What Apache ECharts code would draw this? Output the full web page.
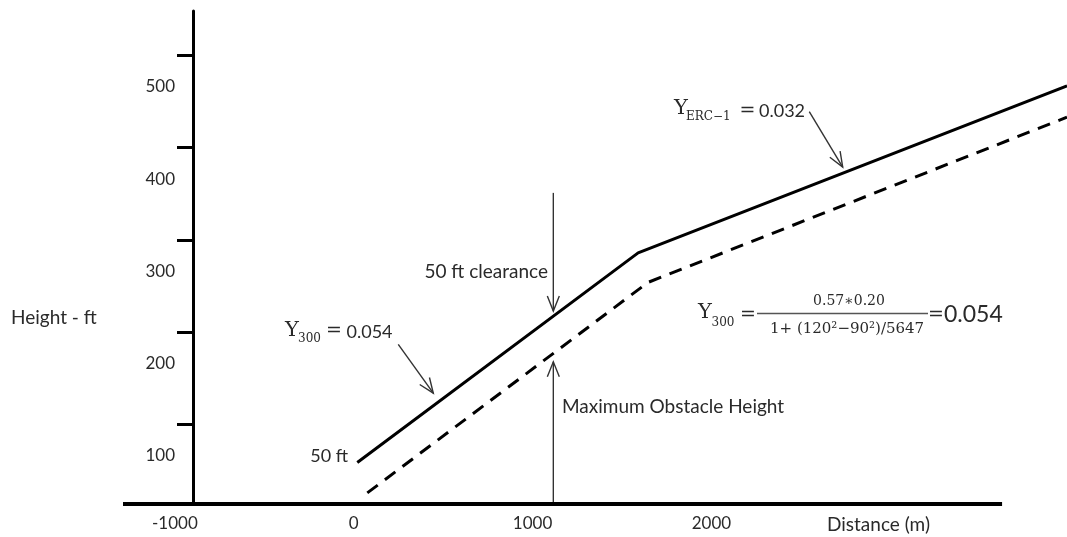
<!DOCTYPE html>
<html><head><meta charset="utf-8">
<script src="https://cdn.jsdelivr.net/npm/echarts@6/dist/echarts.min.js"></script>
<style>html,body{margin:0;padding:0;background:#fff}#c{width:1067px;height:537px}</style>
</head><body><div id="c"></div>
<script>
// Distance (m) / Height (ft)
const solidX = [20, 1590, 3988];
const solidY = [93, 320, 501];
const dashX = [76, 1645, 3988];
const dashY = [60, 288, 467];
const xTickLabels = [-1000, 0, 1000, 2000];
const yTickLabels = [100, 200, 300, 400, 500];
const yTickMarks = [134, 234, 334, 434, 534];
const xAxisSpan = [-1290, 3625];
// annotation arrows: [fromX, fromY, tipX, tipY] in data units
const arrowRows = [
  [1116, 385, 1116, 257],
  [1116, 48, 1116, 202],
  [249, 221, 445, 168],
  [2547, 473, 2734, 413]
];

const TXT = '#2a2a2a';
const SANS = 'Lato';
const SERIF = 'DejaVu Serif';

function t(text, x, y, size, opts) {
  opts = opts || {};
  return {
    type: 'text', z: 10,
    style: {
      text: text, x: x, y: y,
      fontFamily: opts.font || SANS, fontSize: size,
      fill: opts.fill || TXT,
      align: opts.align || 'left', verticalAlign: 'middle'
    }
  };
}

const chart = echarts.init(document.getElementById('c'), null, {renderer: 'canvas'});
chart.setOption({
  animation: false,
  backgroundColor: '#fff',
  grid: {left: 123, right: 0, top: 11, bottom: 33},
  xAxis: {
    type: 'value', min: -1290, max: 3988,
    axisLine: {show: false, onZero: false},
    axisTick: {show: false},
    splitLine: {show: false},
    axisLabel: {customValues: xTickLabels, margin: 11, fontFamily: SANS, fontSize: 17, color: TXT,
      formatter: function (v) { return String(v); }}
  },
  yAxis: {
    type: 'value', min: 48, max: 582, offset: -70,
    axisLine: {show: true, onZero: false, lineStyle: {color: '#000', width: 3}},
    axisTick: {show: true, customValues: yTickMarks, length: 16, lineStyle: {color: '#000', width: 3}},
    splitLine: {show: false},
    axisLabel: {customValues: yTickLabels, margin: 18, fontFamily: SANS, fontSize: 17, color: TXT}
  },
  series: [
    {
      type: 'line', name: 'Climb path', clip: false, showSymbol: false, silent: true,
      data: solidX.map((x, i) => [x, solidY[i]]),
      lineStyle: {color: '#000', width: 3, join: 'round'},
      markLine: {
        silent: true, symbol: 'none', label: {show: false}, animation: false,
        lineStyle: {color: '#000', width: 4, type: 'solid'},
        data: [[{coord: [xAxisSpan[0], 48]}, {coord: [xAxisSpan[1], 48]}]]
      }
    },
    {
      type: 'line', name: 'Obstacle limit', clip: false, showSymbol: false, silent: true,
      data: dashX.map((x, i) => [x, dashY[i]]),
      lineStyle: {color: '#000', width: 3, type: [13, 9]}
    },
    {
      type: 'custom', name: 'arrows', clip: false, silent: true,
      encode: {x: [0, 2], y: [1, 3]},
      data: arrowRows,
      renderItem: function (params, api) {
        const p1 = api.coord([api.value(0), api.value(1)]);
        const p2 = api.coord([api.value(2), api.value(3)]);
        const dx = p2[0] - p1[0], dy = p2[1] - p1[1];
        const len = Math.sqrt(dx * dx + dy * dy);
        const ux = dx / len, uy = dy / len;
        const hl = 15, hw = 6;
        const bx = p2[0] - ux * hl, by = p2[1] - uy * hl;
        const a1 = [bx - uy * hw, by + ux * hw];
        const a2 = [bx + uy * hw, by - ux * hw];
        const st = {stroke: '#333', lineWidth: 1.4, fill: null};
        return {
          type: 'group',
          children: [
            {type: 'line', shape: {x1: p1[0], y1: p1[1], x2: p2[0], y2: p2[1]}, style: st},
            {type: 'polyline', shape: {points: [a1, p2, a2]}, style: st}
          ]
        };
      }
    }
  ],
  graphic: [
    t('Height - ft', 11, 318, 19),
    t('Distance (m)', 827, 525, 19),
    t('50 ft', 348, 456, 18, {align: 'right'}),
    t('50 ft clearance', 548, 271.5, 19, {align: 'right'}),
    t('Maximum Obstacle Height', 562, 407, 19),
    // Y300 = 0.054 (left)
    t('Y', 285, 330.5, 21, {font: SERIF}),
    t('300', 298, 339, 12, {font: SERIF}),
    t('=', 326, 331.5, 19, {font: SERIF}),
    t('0.054', 346.5, 332, 18),
    // Y_ERC-1 = 0.032
    t('Y', 674, 109, 21, {font: SERIF}),
    t('ERC\u22121', 686, 117, 12, {font: SERIF}),
    t('=', 739.5, 111.5, 19, {font: SERIF}),
    t('0.032', 759, 111.5, 18),
    // formula
    t('Y', 698, 313, 21, {font: SERIF}),
    t('300', 711.5, 323, 12, {font: SERIF}),
    t('=', 740, 315, 19, {font: SERIF}),
    t('0.57\u22170.20', 849, 301.5, 14, {font: SERIF, align: 'center'}),
    {type: 'line', z: 10, shape: {x1: 757, y1: 313.5, x2: 928, y2: 313.5}, style: {stroke: '#555', lineWidth: 1.5}},
    t('1+ (120\u00b2\u221290\u00b2)/5647', 770, 329, 15, {font: SERIF}),
    t('=', 928, 315, 19, {font: SERIF}),
    t('0.054', 944, 315, 23)
  ]
});
</script></body></html>
